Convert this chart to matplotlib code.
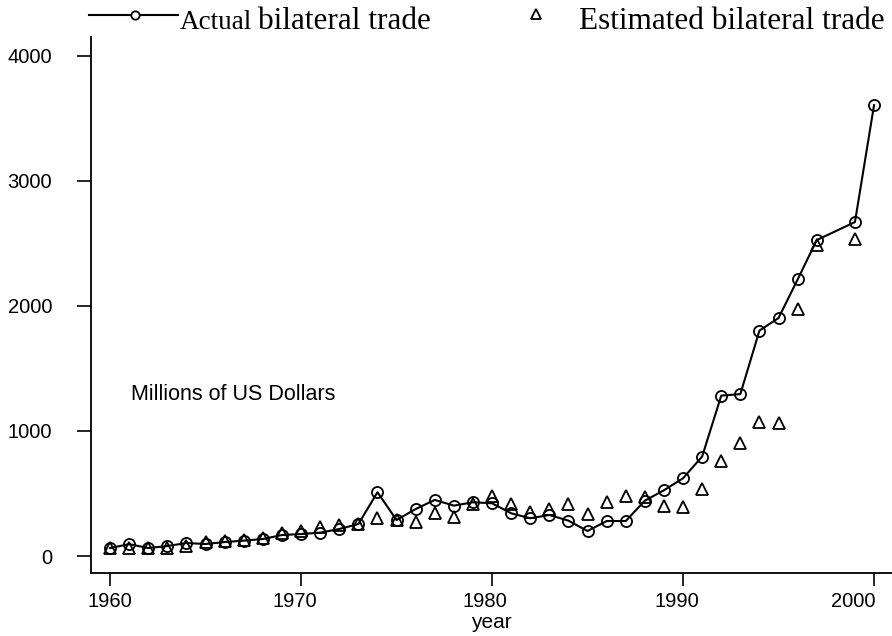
import matplotlib
matplotlib.use("Agg")
import matplotlib.pyplot as plt
import matplotlib.transforms as mtransforms
from matplotlib.lines import Line2D

# dati (milioni di dollari USA)
years_actual = [1960, 1961, 1962, 1963, 1964, 1965, 1966, 1967, 1968, 1969,
                1970, 1971, 1972, 1973, 1974, 1975, 1976, 1977, 1978, 1979,
                1980, 1981, 1982, 1983, 1984, 1985, 1986, 1987, 1988, 1989,
                1990, 1991, 1992, 1993, 1994, 1995, 1996, 1997, 1999, 2000]
actual = [64, 95, 64, 80, 104, 96, 112, 123, 136, 168,
          176, 187, 216, 256, 510, 288, 376, 449, 403, 430,
          422, 342, 302, 328, 283, 200, 280, 280, 443, 526,
          622, 796, 1283, 1295, 1803, 1904, 2212, 2527, 2671, 3606]

years_est = [1960, 1961, 1962, 1963, 1964, 1965, 1966, 1967, 1968, 1969,
             1970, 1971, 1972, 1973, 1974, 1975, 1976, 1977, 1978, 1979,
             1980, 1981, 1982, 1983, 1984, 1985, 1986, 1987, 1988, 1989,
             1990, 1991, 1992, 1993, 1994, 1995, 1996, 1997, 1999]
estimated = [67, 64, 64, 64, 80, 115, 120, 128, 147, 182,
             200, 235, 246, 256, 302, 288, 272, 342, 310, 417,
             481, 417, 355, 376, 417, 336, 435, 483, 470, 398,
             391, 534, 758, 903, 1071, 1063, 1979, 2486, 2538]

xticks = [1960, 1970, 1980, 1990, 2000]
yticks = [0, 1000, 2000, 3000, 4000]
label_shift_px = [0, -6, -7, -6, -21]

sans = ["Liberation Sans", "DejaVu Sans"]
serif = ["Liberation Serif", "DejaVu Serif"]

fig = plt.figure(figsize=(8.92, 6.36), dpi=100)
ax = fig.add_axes([0.102, 0.099, 0.898, 0.843])

ax.plot(years_actual, actual, color="black", lw=1.5, marker="o", ms=8,
        mfc="none", mec="black", mew=1.3, clip_on=False)
ax.plot(years_est, estimated, ls="none", marker="^", ms=8.5,
        mfc="none", mec="black", mew=1.3, clip_on=False)

ax.set_xlim(1959.0, 2000.94)
ax.set_ylim(-136, 4152)
ax.spines["top"].set_visible(False)
ax.spines["right"].set_visible(False)
for s in ("left", "bottom"):
    ax.spines[s].set_linewidth(1.3)

ax.set_xticks(xticks)
ax.set_yticks(yticks)
ax.tick_params(axis="x", length=9, width=1.2, pad=5, labelsize=14.5)
ax.tick_params(axis="y", length=10, width=1.2, pad=18, labelsize=14.5)
for lab in ax.get_xticklabels() + ax.get_yticklabels():
    lab.set_family(sans)
# le etichette dell'asse x sono leggermente spostate a sinistra
for lab, dx in zip(ax.get_xticklabels(), label_shift_px):
    lab.set_transform(lab.get_transform() +
                      mtransforms.ScaledTranslation(dx / 100, 0, fig.dpi_scale_trans))

ax.set_xlabel("year", family=sans, fontsize=15, labelpad=1)
ax.text(1961.1, 1290, "Millions of US Dollars", family=sans, fontsize=15.5,
        va="center", ha="left")

# legenda disegnata a mano sopra il grafico
fig.add_artist(Line2D([89 / 892, 178 / 892], [1 - 15 / 636, 1 - 15 / 636],
                      color="black", lw=1.5, transform=fig.transFigure))
fig.add_artist(Line2D([135 / 892], [1 - 15 / 636], marker="o", ms=6,
                      mfc="white", mec="black", mew=1.3, transform=fig.transFigure))
fig.text(180 / 892, 1 - 29 / 636, "Actual", family=serif, fontsize=19.5,
         va="baseline", ha="left")
fig.text(258 / 892, 1 - 29 / 636, "bilateral trade", family=serif, fontsize=22.5,
         va="baseline", ha="left")
fig.add_artist(Line2D([536 / 892], [1 - 14 / 636], marker="^", ms=6.5,
                      mfc="none", mec="black", mew=1.3, transform=fig.transFigure))
fig.text(579 / 892, 1 - 29 / 636, "Estimated bilateral trade", family=serif,
         fontsize=22.5, va="baseline", ha="left")

fig.savefig("out.png", dpi=100)
